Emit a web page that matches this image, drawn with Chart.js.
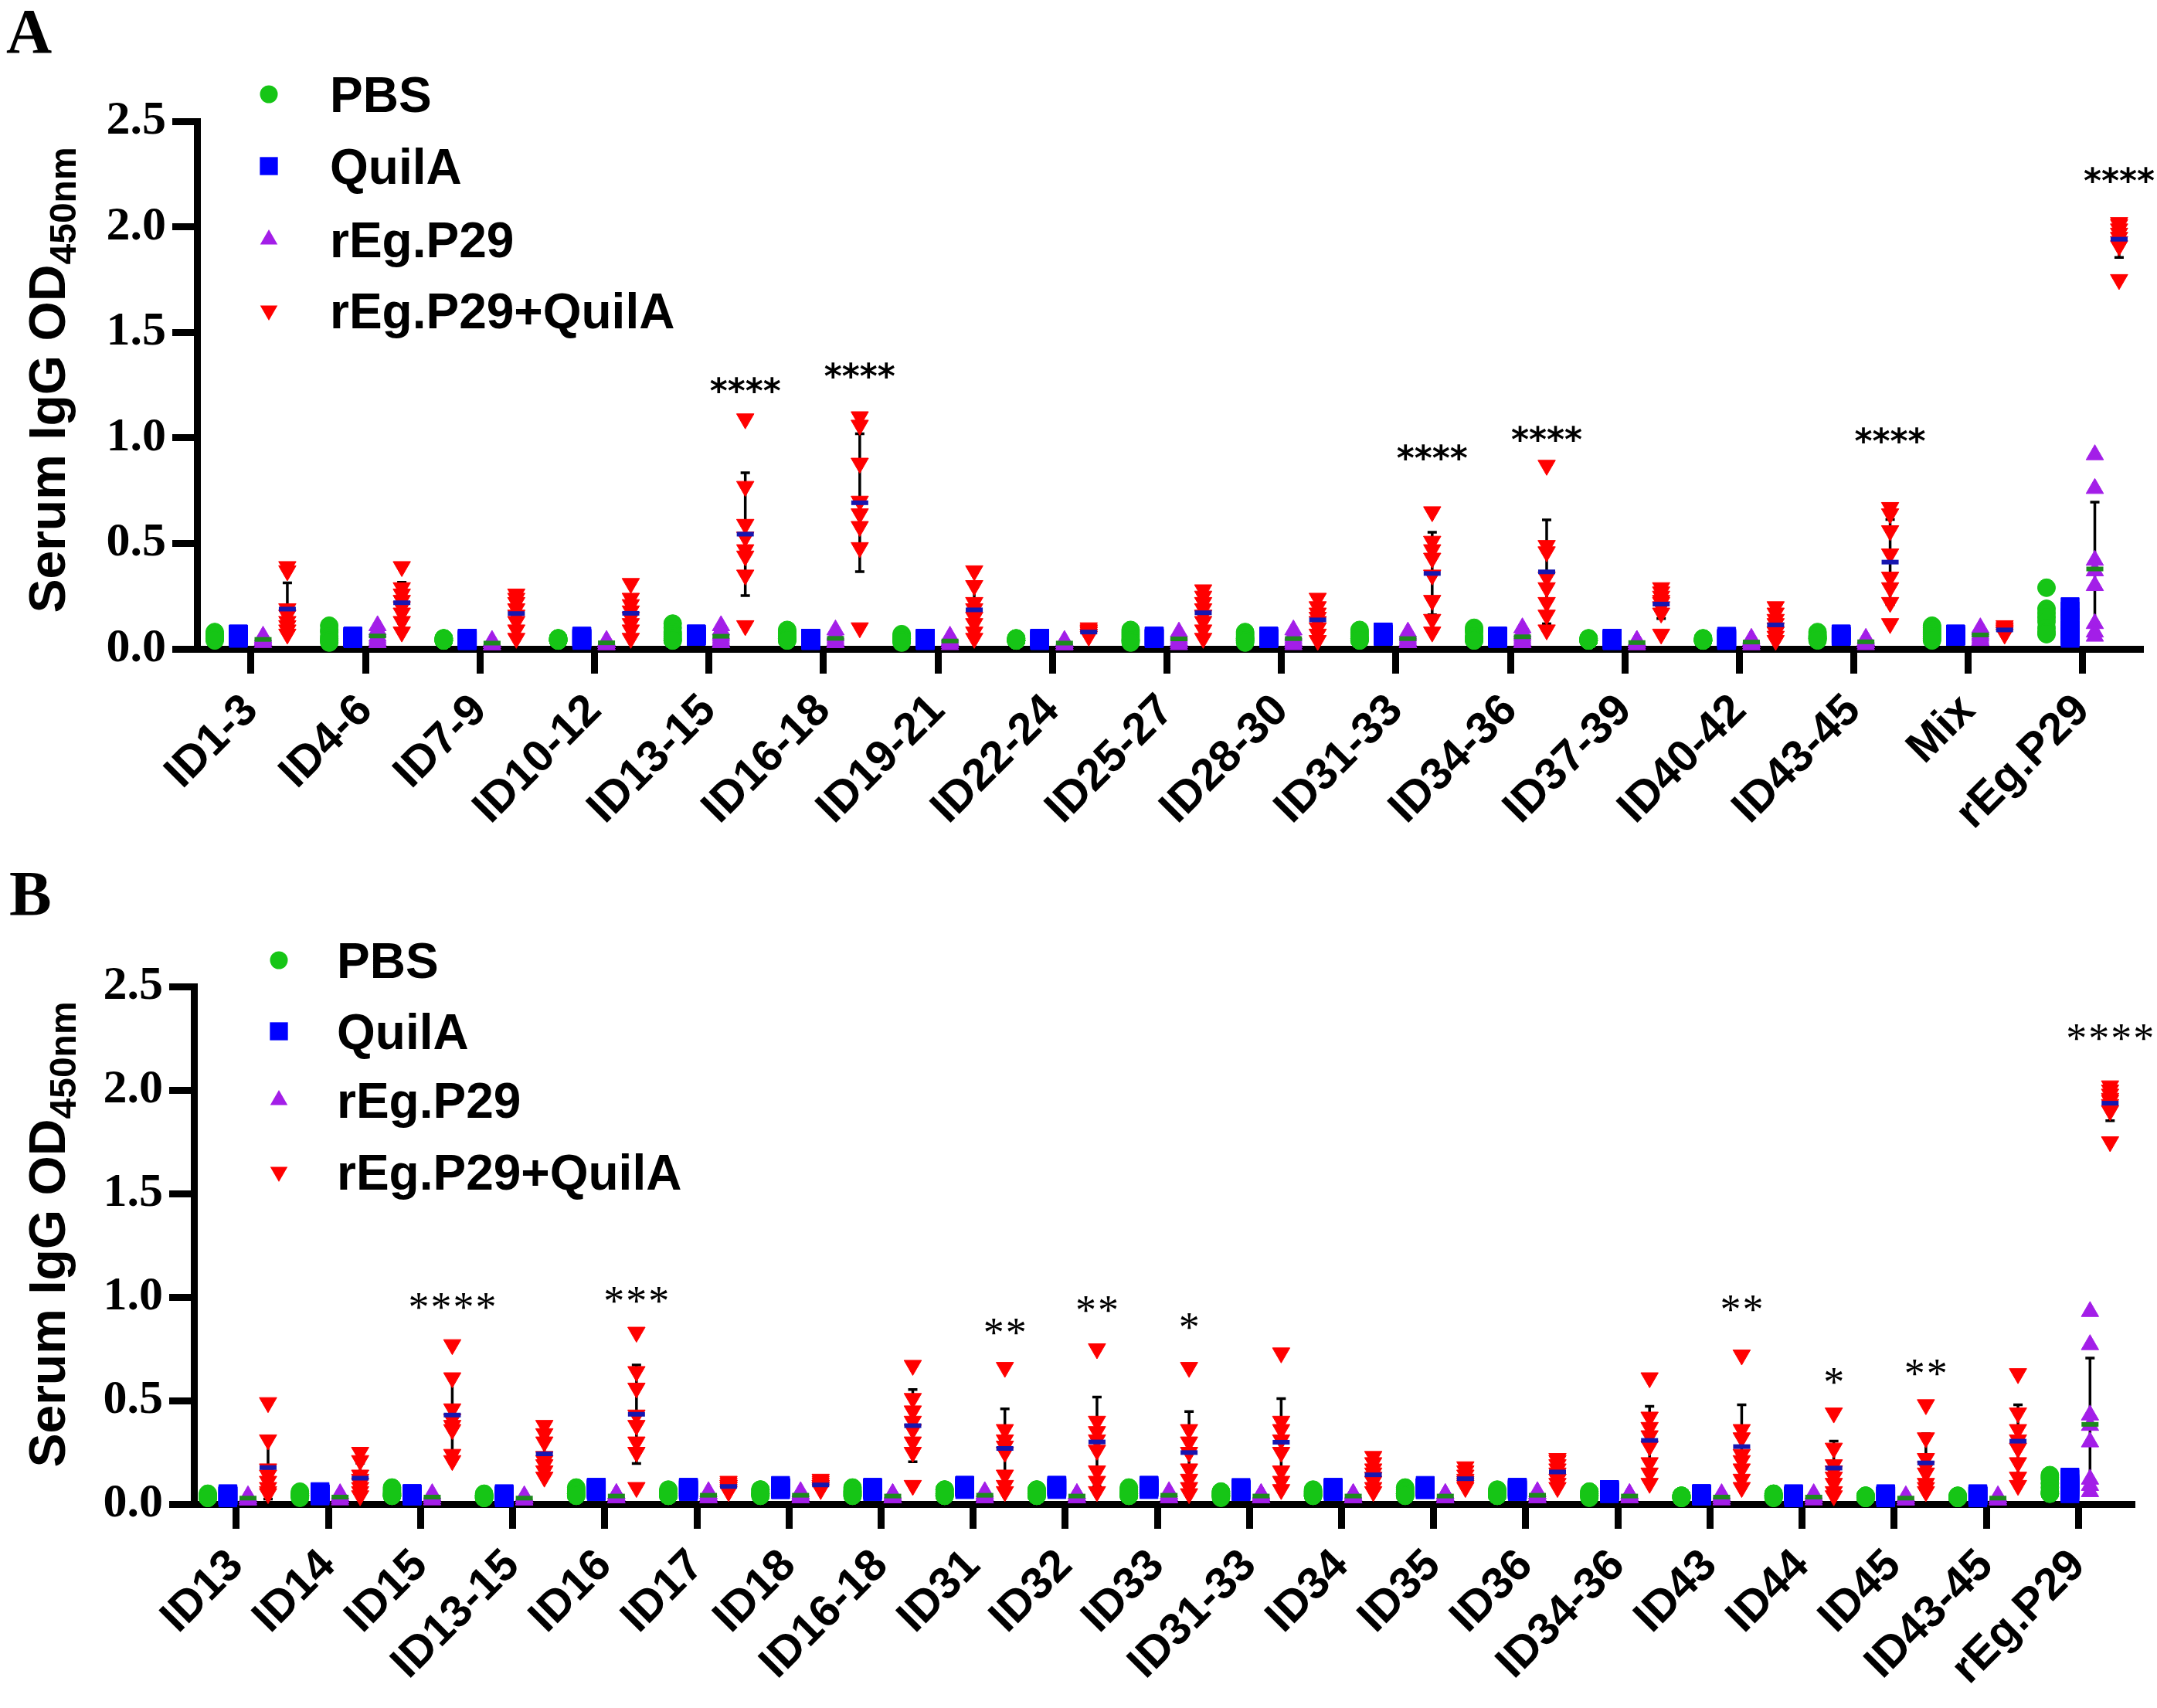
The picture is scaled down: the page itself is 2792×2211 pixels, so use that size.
<!DOCTYPE html>
<html>
<head>
<meta charset="utf-8">
<script src="https://cdn.jsdelivr.net/npm/chart.js@4.4.0/dist/chart.umd.min.js"></script>
<style>
  html, body { margin: 0; padding: 0; background: #fff; }
  .panel { position: absolute; left: 0; width: 2792px; }
</style>
</head>
<body>
<div class="panel" style="top:0;height:1105px"><canvas id="chartA" width="2792" height="1105"></canvas></div>
<div class="panel" style="top:1105px;height:1106px"><canvas id="chartB" width="2792" height="1106"></canvas></div>
<script>
// Serum IgG OD450nm per immunisation group (8 mice per group)
const groupNames = ['PBS', 'QuilA', 'rEg.P29', 'rEg.P29+QuilA'];

// ---- Panel A: peptide pools ----
const categoriesA = ['ID1-3', 'ID4-6', 'ID7-9', 'ID10-12', 'ID13-15', 'ID16-18', 'ID19-21', 'ID22-24',
  'ID25-27', 'ID28-30', 'ID31-33', 'ID34-36', 'ID37-39', 'ID40-42', 'ID43-45', 'Mix', 'rEg.P29'];

const pbsA = [
  [0.08, 0.07, 0.06, 0.06, 0.05, 0.05, 0.05, 0.04],
  [0.11, 0.09, 0.08, 0.06, 0.05, 0.04, 0.04, 0.03],
  [0.05, 0.05, 0.05, 0.04, 0.04, 0.04, 0.04, 0.04],
  [0.05, 0.05, 0.05, 0.04, 0.04, 0.04, 0.04, 0.04],
  [0.12, 0.10, 0.08, 0.07, 0.06, 0.05, 0.04, 0.04],
  [0.09, 0.08, 0.07, 0.06, 0.05, 0.05, 0.04, 0.04],
  [0.07, 0.06, 0.05, 0.05, 0.04, 0.04, 0.04, 0.03],
  [0.05, 0.05, 0.04, 0.04, 0.04, 0.04, 0.04, 0.04],
  [0.09, 0.08, 0.07, 0.06, 0.05, 0.04, 0.04, 0.03],
  [0.08, 0.07, 0.06, 0.05, 0.05, 0.04, 0.04, 0.03],
  [0.09, 0.08, 0.07, 0.06, 0.05, 0.05, 0.04, 0.04],
  [0.10, 0.09, 0.08, 0.06, 0.05, 0.05, 0.04, 0.04],
  [0.05, 0.05, 0.04, 0.04, 0.04, 0.04, 0.04, 0.04],
  [0.05, 0.05, 0.04, 0.04, 0.04, 0.04, 0.04, 0.04],
  [0.08, 0.07, 0.06, 0.06, 0.05, 0.05, 0.05, 0.04],
  [0.11, 0.10, 0.09, 0.08, 0.07, 0.06, 0.05, 0.04],
  [0.29, 0.19, 0.17, 0.15, 0.13, 0.10, 0.08, 0.07]
];
const quilaA = [
  [0.07, 0.07, 0.07, 0.06, 0.06, 0.06, 0.06, 0.05],
  [0.06, 0.06, 0.06, 0.05, 0.05, 0.05, 0.05, 0.05],
  [0.05, 0.05, 0.05, 0.05, 0.04, 0.04, 0.04, 0.04],
  [0.06, 0.06, 0.05, 0.05, 0.05, 0.05, 0.05, 0.04],
  [0.07, 0.07, 0.07, 0.07, 0.06, 0.06, 0.06, 0.06],
  [0.05, 0.05, 0.05, 0.05, 0.05, 0.04, 0.04, 0.04],
  [0.05, 0.05, 0.05, 0.05, 0.05, 0.04, 0.04, 0.04],
  [0.05, 0.05, 0.05, 0.05, 0.05, 0.04, 0.04, 0.04],
  [0.06, 0.06, 0.06, 0.05, 0.05, 0.05, 0.05, 0.05],
  [0.06, 0.06, 0.06, 0.05, 0.05, 0.05, 0.05, 0.05],
  [0.08, 0.08, 0.07, 0.07, 0.07, 0.06, 0.06, 0.06],
  [0.06, 0.06, 0.06, 0.06, 0.05, 0.05, 0.05, 0.05],
  [0.05, 0.05, 0.05, 0.05, 0.04, 0.04, 0.04, 0.04],
  [0.06, 0.05, 0.05, 0.05, 0.05, 0.05, 0.04, 0.04],
  [0.07, 0.07, 0.07, 0.06, 0.06, 0.06, 0.06, 0.06],
  [0.07, 0.07, 0.07, 0.06, 0.06, 0.06, 0.06, 0.06],
  [0.20, 0.18, 0.15, 0.12, 0.09, 0.07, 0.06, 0.05]
];
const p29A = [
  [0.06, 0.05, 0.05, 0.05, 0.04, 0.04, 0.04, 0.03],
  [0.11, 0.09, 0.08, 0.06, 0.05, 0.04, 0.03, 0.03],
  [0.04, 0.03, 0.03, 0.03, 0.03, 0.02, 0.02, 0.02],
  [0.04, 0.03, 0.03, 0.03, 0.03, 0.03, 0.02, 0.02],
  [0.11, 0.09, 0.07, 0.06, 0.05, 0.04, 0.03, 0.03],
  [0.09, 0.07, 0.06, 0.05, 0.04, 0.03, 0.03, 0.03],
  [0.06, 0.05, 0.04, 0.04, 0.03, 0.03, 0.03, 0.02],
  [0.04, 0.03, 0.03, 0.03, 0.03, 0.02, 0.02, 0.02],
  [0.08, 0.07, 0.06, 0.05, 0.04, 0.03, 0.03, 0.02],
  [0.09, 0.07, 0.06, 0.05, 0.04, 0.03, 0.03, 0.02],
  [0.08, 0.07, 0.06, 0.05, 0.04, 0.03, 0.03, 0.03],
  [0.10, 0.08, 0.07, 0.06, 0.05, 0.04, 0.03, 0.03],
  [0.04, 0.04, 0.03, 0.03, 0.03, 0.03, 0.02, 0.02],
  [0.05, 0.04, 0.04, 0.03, 0.03, 0.03, 0.02, 0.02],
  [0.05, 0.04, 0.04, 0.03, 0.03, 0.03, 0.03, 0.02],
  [0.10, 0.09, 0.08, 0.07, 0.06, 0.05, 0.04, 0.04],
  [0.92, 0.76, 0.42, 0.37, 0.30, 0.12, 0.08, 0.06]
];
const p29QuilaA = [
  [0.39, 0.37, 0.19, 0.16, 0.13, 0.11, 0.09, 0.07],
  [0.39, 0.29, 0.26, 0.23, 0.20, 0.17, 0.13, 0.08],
  [0.26, 0.24, 0.22, 0.19, 0.16, 0.13, 0.09, 0.05],
  [0.31, 0.24, 0.21, 0.18, 0.15, 0.12, 0.09, 0.05],
  [1.09, 0.77, 0.59, 0.53, 0.47, 0.44, 0.35, 0.11],
  [1.10, 1.06, 0.88, 0.70, 0.64, 0.58, 0.48, 0.10],
  [0.37, 0.30, 0.22, 0.19, 0.15, 0.12, 0.08, 0.05],
  [0.10, 0.09, 0.09, 0.08, 0.08, 0.07, 0.07, 0.06],
  [0.28, 0.25, 0.22, 0.19, 0.16, 0.13, 0.09, 0.05],
  [0.24, 0.20, 0.17, 0.15, 0.13, 0.10, 0.07, 0.04],
  [0.65, 0.51, 0.47, 0.43, 0.35, 0.23, 0.14, 0.08],
  [0.87, 0.49, 0.46, 0.34, 0.29, 0.22, 0.16, 0.09],
  [0.29, 0.27, 0.25, 0.23, 0.22, 0.20, 0.17, 0.07],
  [0.20, 0.17, 0.14, 0.12, 0.10, 0.08, 0.06, 0.04],
  [0.67, 0.64, 0.56, 0.45, 0.34, 0.29, 0.22, 0.12],
  [0.11, 0.10, 0.10, 0.09, 0.09, 0.08, 0.08, 0.07],
  [2.02, 2.01, 1.99, 1.97, 1.95, 1.93, 1.91, 1.75]
];
const starsA = ['', '', '', '', '****', '****', '', '', '', '', '****', '****', '', '', '****', '', '****'];
const starLevelsA = [0, 0, 0, 0, 1.26, 1.33, 0, 0, 0, 0, 0.94, 1.03, 0, 0, 1.02, 0, 2.255];

// ---- Panel B: single peptides and pools ----
const categoriesB = ['ID13', 'ID14', 'ID15', 'ID13-15', 'ID16', 'ID17', 'ID18', 'ID16-18', 'ID31', 'ID32',
  'ID33', 'ID31-33', 'ID34', 'ID35', 'ID36', 'ID34-36', 'ID43', 'ID44', 'ID45', 'ID43-45', 'rEg.P29'];

const pbsB = [
  [0.05, 0.04, 0.04, 0.04, 0.04, 0.03, 0.03, 0.03],
  [0.06, 0.05, 0.05, 0.04, 0.04, 0.04, 0.04, 0.03],
  [0.08, 0.07, 0.06, 0.05, 0.05, 0.04, 0.04, 0.04],
  [0.05, 0.04, 0.04, 0.04, 0.04, 0.03, 0.03, 0.03],
  [0.08, 0.07, 0.06, 0.05, 0.05, 0.05, 0.04, 0.04],
  [0.07, 0.06, 0.06, 0.05, 0.05, 0.04, 0.04, 0.04],
  [0.07, 0.07, 0.06, 0.05, 0.05, 0.05, 0.04, 0.04],
  [0.08, 0.07, 0.06, 0.06, 0.05, 0.05, 0.04, 0.04],
  [0.07, 0.07, 0.06, 0.05, 0.05, 0.04, 0.04, 0.04],
  [0.07, 0.07, 0.06, 0.05, 0.05, 0.04, 0.04, 0.04],
  [0.08, 0.07, 0.06, 0.05, 0.05, 0.04, 0.04, 0.04],
  [0.06, 0.06, 0.05, 0.05, 0.04, 0.04, 0.04, 0.03],
  [0.07, 0.06, 0.06, 0.05, 0.05, 0.04, 0.04, 0.04],
  [0.08, 0.07, 0.06, 0.05, 0.05, 0.05, 0.04, 0.04],
  [0.07, 0.06, 0.06, 0.05, 0.05, 0.04, 0.04, 0.04],
  [0.06, 0.06, 0.05, 0.05, 0.04, 0.04, 0.04, 0.03],
  [0.04, 0.04, 0.04, 0.04, 0.03, 0.03, 0.03, 0.03],
  [0.05, 0.05, 0.04, 0.04, 0.04, 0.04, 0.03, 0.03],
  [0.04, 0.04, 0.04, 0.04, 0.03, 0.03, 0.03, 0.03],
  [0.04, 0.04, 0.03, 0.03, 0.03, 0.03, 0.03, 0.03],
  [0.14, 0.13, 0.12, 0.10, 0.08, 0.06, 0.05, 0.05]
];
const quilaB = [
  [0.05, 0.04, 0.04, 0.04, 0.04, 0.04, 0.04, 0.03],
  [0.06, 0.05, 0.05, 0.05, 0.05, 0.05, 0.04, 0.04],
  [0.05, 0.05, 0.05, 0.04, 0.04, 0.04, 0.04, 0.04],
  [0.05, 0.04, 0.04, 0.04, 0.04, 0.04, 0.04, 0.03],
  [0.08, 0.08, 0.08, 0.07, 0.07, 0.07, 0.07, 0.06],
  [0.08, 0.08, 0.08, 0.07, 0.07, 0.07, 0.07, 0.06],
  [0.09, 0.08, 0.08, 0.08, 0.08, 0.08, 0.07, 0.07],
  [0.08, 0.08, 0.08, 0.07, 0.07, 0.07, 0.07, 0.06],
  [0.09, 0.09, 0.09, 0.08, 0.08, 0.08, 0.08, 0.07],
  [0.09, 0.09, 0.09, 0.08, 0.08, 0.08, 0.08, 0.07],
  [0.09, 0.09, 0.09, 0.08, 0.08, 0.08, 0.08, 0.07],
  [0.08, 0.07, 0.07, 0.07, 0.07, 0.07, 0.06, 0.06],
  [0.08, 0.08, 0.08, 0.07, 0.07, 0.07, 0.07, 0.06],
  [0.09, 0.08, 0.08, 0.08, 0.08, 0.08, 0.07, 0.07],
  [0.08, 0.08, 0.08, 0.07, 0.07, 0.07, 0.07, 0.06],
  [0.07, 0.07, 0.07, 0.06, 0.06, 0.06, 0.06, 0.05],
  [0.05, 0.05, 0.05, 0.04, 0.04, 0.04, 0.04, 0.04],
  [0.05, 0.04, 0.04, 0.04, 0.04, 0.04, 0.04, 0.03],
  [0.05, 0.04, 0.04, 0.04, 0.04, 0.04, 0.04, 0.03],
  [0.05, 0.04, 0.04, 0.04, 0.04, 0.04, 0.04, 0.03],
  [0.13, 0.12, 0.10, 0.09, 0.08, 0.07, 0.06, 0.05]
];
const p29B = [
  [0.04, 0.03, 0.03, 0.03, 0.03, 0.03, 0.02, 0.02],
  [0.05, 0.04, 0.04, 0.03, 0.03, 0.03, 0.03, 0.02],
  [0.05, 0.04, 0.04, 0.03, 0.03, 0.03, 0.03, 0.02],
  [0.04, 0.03, 0.03, 0.03, 0.03, 0.03, 0.02, 0.02],
  [0.05, 0.05, 0.04, 0.04, 0.04, 0.03, 0.03, 0.03],
  [0.06, 0.05, 0.05, 0.04, 0.04, 0.04, 0.03, 0.03],
  [0.06, 0.05, 0.05, 0.04, 0.04, 0.04, 0.03, 0.03],
  [0.05, 0.05, 0.04, 0.04, 0.04, 0.03, 0.03, 0.03],
  [0.06, 0.05, 0.05, 0.04, 0.04, 0.04, 0.03, 0.03],
  [0.05, 0.05, 0.04, 0.04, 0.04, 0.03, 0.03, 0.03],
  [0.06, 0.05, 0.05, 0.04, 0.04, 0.04, 0.03, 0.03],
  [0.05, 0.05, 0.04, 0.04, 0.04, 0.03, 0.03, 0.03],
  [0.05, 0.05, 0.04, 0.04, 0.04, 0.03, 0.03, 0.03],
  [0.05, 0.05, 0.04, 0.04, 0.04, 0.03, 0.03, 0.03],
  [0.06, 0.05, 0.05, 0.04, 0.04, 0.04, 0.03, 0.03],
  [0.05, 0.05, 0.04, 0.04, 0.04, 0.03, 0.03, 0.03],
  [0.05, 0.04, 0.04, 0.03, 0.03, 0.03, 0.03, 0.02],
  [0.05, 0.04, 0.04, 0.03, 0.03, 0.03, 0.03, 0.02],
  [0.04, 0.03, 0.03, 0.03, 0.03, 0.03, 0.02, 0.02],
  [0.04, 0.03, 0.03, 0.03, 0.03, 0.03, 0.02, 0.02],
  [0.93, 0.77, 0.43, 0.38, 0.30, 0.12, 0.09, 0.06]
];
const p29QuilaB = [
  [0.49, 0.31, 0.17, 0.14, 0.11, 0.08, 0.06, 0.05],
  [0.25, 0.21, 0.14, 0.12, 0.10, 0.08, 0.06, 0.04],
  [0.77, 0.61, 0.46, 0.41, 0.38, 0.36, 0.24, 0.21],
  [0.38, 0.34, 0.30, 0.23, 0.21, 0.19, 0.16, 0.13],
  [0.83, 0.64, 0.56, 0.43, 0.38, 0.30, 0.25, 0.08],
  [0.11, 0.10, 0.09, 0.09, 0.08, 0.08, 0.07, 0.06],
  [0.12, 0.11, 0.10, 0.09, 0.09, 0.08, 0.08, 0.07],
  [0.67, 0.51, 0.45, 0.40, 0.36, 0.30, 0.25, 0.09],
  [0.66, 0.36, 0.31, 0.28, 0.25, 0.14, 0.09, 0.06],
  [0.75, 0.40, 0.35, 0.31, 0.26, 0.16, 0.11, 0.06],
  [0.66, 0.36, 0.30, 0.25, 0.17, 0.12, 0.08, 0.05],
  [0.73, 0.40, 0.36, 0.31, 0.25, 0.16, 0.11, 0.07],
  [0.23, 0.20, 0.17, 0.15, 0.13, 0.11, 0.08, 0.06],
  [0.18, 0.16, 0.14, 0.12, 0.11, 0.10, 0.09, 0.08],
  [0.22, 0.21, 0.19, 0.17, 0.15, 0.12, 0.10, 0.08],
  [0.61, 0.42, 0.37, 0.33, 0.28, 0.20, 0.15, 0.10],
  [0.72, 0.36, 0.32, 0.24, 0.21, 0.17, 0.12, 0.08],
  [0.44, 0.27, 0.19, 0.16, 0.13, 0.10, 0.06, 0.04],
  [0.48, 0.32, 0.22, 0.18, 0.15, 0.10, 0.08, 0.06],
  [0.63, 0.44, 0.36, 0.31, 0.27, 0.20, 0.13, 0.09],
  [2.02, 2.00, 1.98, 1.96, 1.95, 1.93, 1.90, 1.75]
];
const starsB = ['', '', '****', '', '***', '', '', '', '**', '**', '*', '', '', '', '', '', '**', '*', '**', '', '****'];
const starLevelsB = [0, 0, 0.98, 0, 1.01, 0, 0, 0, 0.86, 0.965, 0.886, 0, 0, 0, 0, 0, 0.97, 0.62, 0.66, 0, 2.28];

// ---- styling ----
const groupStyles = [
  { color: '#16c516', pointStyle: 'circle', radius: 11.5, rotation: 0, meanColor: null },
  { color: '#0000ff', pointStyle: 'rect', radius: 16.5, rotation: 0, meanColor: null },
  { color: '#a31ee8', pointStyle: 'triangle', radius: 13, rotation: 0, meanColor: '#1d8a1d' },
  { color: '#ff0000', pointStyle: 'triangle', radius: 13, rotation: 180, meanColor: '#1616b0' }
];
const sansFont = '"Liberation Sans", Arial, sans-serif';
const serifFont = '"Liberation Serif", "Times New Roman", serif';

const meanOf = (a) => a.reduce((s, v) => s + v, 0) / a.length;
const sdOf = (a) => {
  const m = meanOf(a);
  return Math.sqrt(a.reduce((s, v) => s + (v - m) * (v - m), 0) / (a.length - 1));
};

// Draws error bars, group means, significance stars, legend, axis title and panel letter
const makeOverlay = (cfg) => ({
  id: 'overlay' + cfg.letter,
  beforeDatasetsDraw(chart) {
    const { ctx, scales: { x, y } } = chart;
    ctx.save();
    ctx.strokeStyle = '#000';
    ctx.lineWidth = 3.5;
    cfg.series.forEach((groups, g) => {
      groups.forEach((vals, i) => {
        const m = meanOf(vals);
        const sd = sdOf(vals);
        const px = x.getPixelForValue(i + cfg.offsets[g]);
        const top = y.getPixelForValue(m + sd);
        const bot = y.getPixelForValue(Math.max(m - sd, 0));
        ctx.beginPath();
        ctx.moveTo(px, top); ctx.lineTo(px, bot);
        ctx.moveTo(px - 6, top); ctx.lineTo(px + 6, top);
        ctx.moveTo(px - 6, bot); ctx.lineTo(px + 6, bot);
        ctx.stroke();
      });
    });
    ctx.restore();
  },
  afterDatasetsDraw(chart) {
    const { ctx, scales: { x, y } } = chart;
    ctx.save();
    // mean marks
    cfg.series.forEach((groups, g) => {
      const col = groupStyles[g].meanColor;
      if (!col) return;
      ctx.fillStyle = col;
      groups.forEach((vals, i) => {
        const px = x.getPixelForValue(i + cfg.offsets[g]);
        const py = y.getPixelForValue(meanOf(vals));
        ctx.fillRect(px - 11, py - 3, 22, 6);
      });
    });
    // significance stars above rEg.P29+QuilA
    ctx.fillStyle = '#000';
    ctx.textAlign = 'center';
    ctx.textBaseline = 'alphabetic';
    ctx.font = cfg.starFont;
    cfg.stars.forEach((s, i) => {
      if (!s) return;
      const cx = x.getPixelForValue(i + cfg.offsets[3]);
      const cy = y.getPixelForValue(cfg.starLevels[i]) + cfg.starShift;
      for (let k = 0; k < s.length; k++) {
        ctx.fillText('*', cx + (k - (s.length - 1) / 2) * cfg.starPitch, cy);
      }
    });
    ctx.restore();
  },
  afterDraw(chart) {
    const { ctx } = chart;
    ctx.save();
    // legend
    groupNames.forEach((name, g) => {
      const st = groupStyles[g];
      const ry = cfg.legend.rows[g];
      ctx.fillStyle = st.color;
      Chart.helpers.drawPoint(ctx, { pointStyle: st.pointStyle, radius: st.radius, rotation: st.rotation, borderWidth: 0 },
        cfg.legend.markerX, ry);
      ctx.fillStyle = '#000';
      ctx.font = 'bold 64px ' + sansFont;
      ctx.textAlign = 'left';
      ctx.textBaseline = 'alphabetic';
      ctx.fillText(name, cfg.legend.textX, ry + 23);
    });
    // y axis title with subscript
    ctx.translate(cfg.title.x, cfg.title.y);
    ctx.rotate(-Math.PI / 2);
    ctx.font = 'bold 66px ' + sansFont;
    const mainW = ctx.measureText('Serum IgG OD').width;
    ctx.font = 'bold 48px ' + sansFont;
    const subW = ctx.measureText('450nm').width;
    const start = -(mainW + subW) / 2;
    ctx.font = 'bold 66px ' + sansFont;
    ctx.fillText('Serum IgG OD', start, 0);
    ctx.font = 'bold 48px ' + sansFont;
    ctx.fillText('450nm', start + mainW, 14);
    ctx.setTransform(1, 0, 0, 1, 0, 0);
    // panel letter
    ctx.font = 'bold 82px ' + serifFont;
    ctx.fillText(cfg.letter, cfg.letterPos[0], cfg.letterPos[1]);
    ctx.restore();
  }
});

const makePanel = (cfg) => {
  const gridOpts = { drawOnChartArea: false, drawTicks: true, tickLength: 32, tickWidth: 9, tickColor: '#000' };
  const borderOpts = { display: true, width: 9, color: '#000' };
  return new Chart(document.getElementById(cfg.canvasId), {
    type: 'scatter',
    data: {
      datasets: groupStyles.map((st, g) => ({
        label: groupNames[g],
        data: cfg.series[g].flatMap((vals, i) => vals.map((v) => ({ x: i + cfg.offsets[g], y: v }))),
        pointStyle: st.pointStyle,
        pointRadius: st.radius,
        pointHoverRadius: st.radius,
        pointRotation: st.rotation,
        pointBackgroundColor: st.color,
        pointBorderColor: st.color,
        pointBorderWidth: 1,
        showLine: false,
        clip: false
      }))
    },
    options: {
      responsive: false,
      animation: false,
      devicePixelRatio: 1,
      events: [],
      layout: { padding: { top: cfg.area.top, right: 2792 - cfg.area.right, left: 0, bottom: 0 } },
      plugins: { legend: { display: false }, tooltip: { enabled: false } },
      scales: {
        x: {
          type: 'linear',
          min: cfg.xMin,
          max: cfg.xMax,
          afterBuildTicks: (s) => { s.ticks = cfg.categories.map((c, i) => ({ value: i })); },
          afterFit: (s) => { s.height = cfg.height - cfg.area.bottom; },
          ticks: {
            autoSkip: false, minRotation: 45, maxRotation: 45, padding: 14, color: '#000',
            font: { family: sansFont, weight: 'bold', size: 58 },
            callback: (v) => cfg.categories[Math.round(v)]
          },
          grid: gridOpts,
          border: borderOpts
        },
        y: {
          min: 0,
          max: 2.5,
          afterFit: (s) => { s.width = cfg.area.left; },
          ticks: {
            stepSize: 0.5, padding: 8, color: '#000',
            font: { family: serifFont, weight: 'bold', size: 62 },
            callback: (v) => v.toFixed(1)
          },
          grid: gridOpts,
          border: borderOpts
        }
      }
    },
    plugins: [makeOverlay(cfg)]
  });
};

makePanel({
  canvasId: 'chartA', letter: 'A', letterPos: [8, 68],
  categories: categoriesA, series: [pbsA, quilaA, p29A, p29QuilaA],
  offsets: [-0.317, -0.111, 0.105, 0.317],
  xMin: -0.472, xMax: 16.53,
  area: { top: 157, bottom: 840, left: 255, right: 2775 }, height: 1105,
  stars: starsA, starLevels: starLevelsA, starFont: 'bold 44px "DejaVu Sans", sans-serif', starPitch: 23, starShift: 25,
  legend: { markerX: 348, textX: 427, rows: [122, 215, 310, 402] },
  title: { x: 84, y: 492 }
});

makePanel({
  canvasId: 'chartB', letter: 'B', letterPos: [12, 79],
  categories: categoriesB, series: [pbsB, quilaB, p29B, p29QuilaB],
  offsets: [-0.31, -0.092, 0.126, 0.344],
  xMin: -0.461, xMax: 20.61,
  area: { top: 172, bottom: 842, left: 251, right: 2763 }, height: 1106,
  stars: starsB, starLevels: starLevelsB, starFont: '54px ' + serifFont, starPitch: 29, starShift: 26,
  legend: { markerX: 361, textX: 436, rows: [138, 230, 319, 412] },
  title: { x: 84, y: 493 }
});
</script>
</body>
</html>
